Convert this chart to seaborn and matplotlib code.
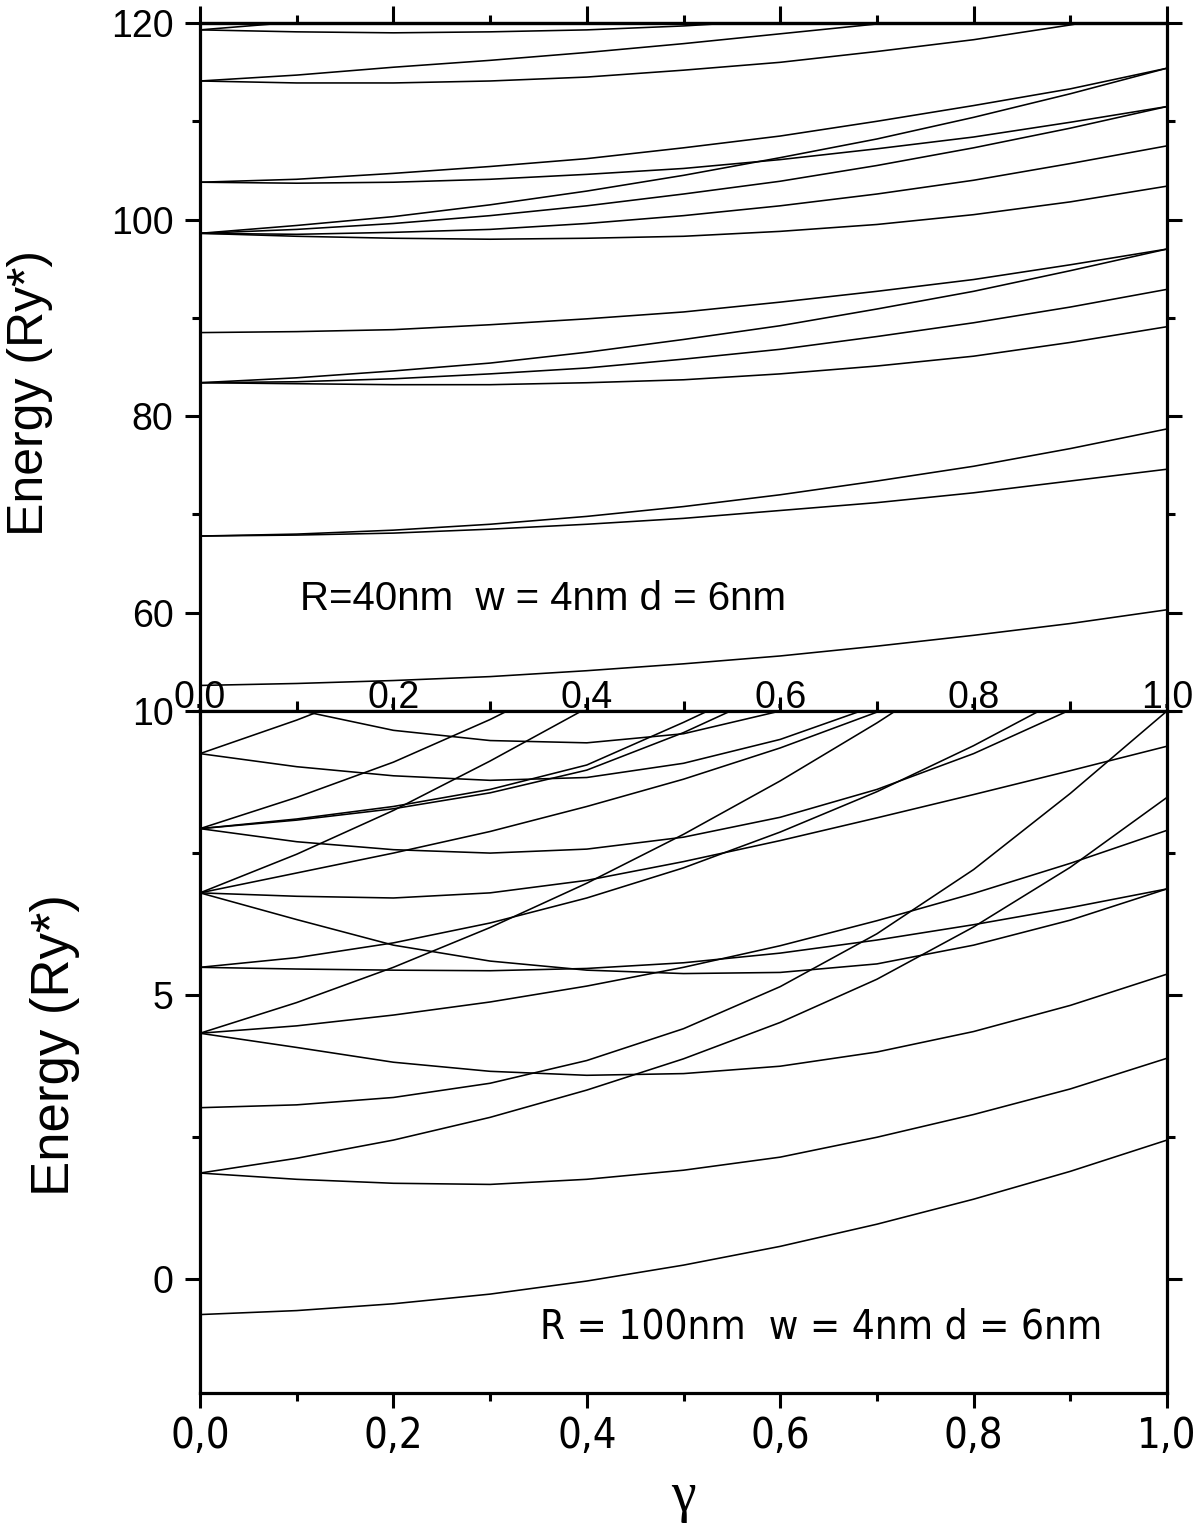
import numpy as np
import pandas as pd
import matplotlib
matplotlib.use("Agg")
import matplotlib.pyplot as plt
import matplotlib.transforms as mtrans
from matplotlib import font_manager as fm
from matplotlib.ticker import MultipleLocator
import seaborn as sns

# ---------------- data ----------------
gamma = [0.0, 0.1, 0.2, 0.3, 0.4, 0.5, 0.6, 0.7, 0.8, 0.9, 1.0]

# top panel (R = 40 nm) energy levels, Ry*
t1 = [52.6, 52.8, 53.1, 53.5, 54.1, 54.8, 55.6, 56.6, 57.7, 58.9, 60.3]
t2a = [67.8, 68.0, 68.4, 69.0, 69.8, 70.8, 72.0, 73.4, 74.9, 76.7, 78.7]
t2b = [67.8, 67.9, 68.1, 68.5, 69.0, 69.6, 70.4, 71.2, 72.2, 73.4, 74.6]
t3a = [83.4, 83.9, 84.6, 85.4, 86.5, 87.8, 89.2, 90.9, 92.7, 94.8, 97.0]
t3b = [83.4, 83.5, 83.8, 84.3, 84.9, 85.8, 86.8, 88.1, 89.5, 91.1, 92.9]
t3c = [83.4, 83.3, 83.2, 83.2, 83.4, 83.7, 84.3, 85.1, 86.1, 87.5, 89.1]
t4 = [88.5, 88.6, 88.8, 89.3, 89.9, 90.6, 91.6, 92.7, 93.9, 95.4, 97.0]
t5a = [98.6, 98.3, 98.1, 98.0, 98.1, 98.3, 98.8, 99.5, 100.5, 101.8, 103.4]
t5b = [98.6, 98.5, 98.7, 99.0, 99.6, 100.4, 101.4, 102.6, 104.0, 105.7, 107.5]
t5c = [98.6, 99.0, 99.6, 100.4, 101.4, 102.6, 103.9, 105.5, 107.3, 109.3, 111.5]
t5d = [98.6, 99.4, 100.3, 101.5, 102.9, 104.5, 106.3, 108.2, 110.4, 112.8, 115.4]
t6a = [103.8, 104.1, 104.7, 105.4, 106.2, 107.3, 108.5, 110.0, 111.6, 113.3, 115.4]
t6b = [103.8, 103.7, 103.8, 104.1, 104.6, 105.2, 106.1, 107.2, 108.4, 109.9, 111.5]
t7a = [114.1, 114.7, 115.5, 116.2, 117.0, 117.9, 118.9, 119.9, 121.0]
t7b = [114.1, 113.9, 113.9, 114.1, 114.5, 115.2, 116.0, 117.1, 118.3, 119.8, 121.5]
t8a = [119.3, 120.1, 121.0]
t8b = [119.3, 119.1, 119.0, 119.1, 119.3, 119.7, 120.3]

# bottom panel (R = 100 nm) energy levels, Ry*
b1 = [-0.62, -0.55, -0.43, -0.26, -0.03, 0.25, 0.58, 0.97, 1.41, 1.90, 2.45]
b2 = [1.87, 1.76, 1.69, 1.67, 1.76, 1.92, 2.15, 2.50, 2.90, 3.35, 3.89]
b3 = [1.87, 2.13, 2.45, 2.85, 3.33, 3.88, 4.52, 5.28, 6.20, 7.25, 8.48]
b4 = [3.02, 3.07, 3.20, 3.45, 3.85, 4.41, 5.15, 6.08, 7.21, 8.55, 10.0]
b5 = [4.33, 4.08, 3.82, 3.66, 3.59, 3.62, 3.75, 4.00, 4.36, 4.82, 5.37]
b6 = [4.33, 4.46, 4.65, 4.88, 5.16, 5.49, 5.87, 6.31, 6.79, 7.32, 7.90]
b7 = [4.33, 4.87, 5.49, 6.19, 6.97, 7.83, 8.77, 9.79, 10.89]
b8 = [5.49, 5.46, 5.44, 5.43, 5.47, 5.57, 5.74, 5.97, 6.24, 6.54, 6.87]
b9 = [5.49, 5.66, 5.92, 6.27, 6.71, 7.24, 7.87, 8.58, 9.39, 10.29]
b10 = [6.80, 7.48, 8.25, 9.12, 10.05, 11.0]
b11 = [6.80, 7.15, 7.50, 7.88, 8.32, 8.80, 9.35, 9.98, 10.65]
b12 = [6.80, 6.74, 6.71, 6.80, 7.02, 7.35, 7.72, 8.12, 8.53, 8.95, 9.38]
b13 = [6.80, 6.33, 5.88, 5.60, 5.44, 5.38, 5.40, 5.55, 5.88, 6.32, 6.87]
b14 = [7.93, 8.48, 9.10, 9.85, 10.7]
b15 = [7.93, 8.10, 8.32, 8.62, 9.05, 9.80, 10.6]
b16 = [7.93, 8.08, 8.28, 8.56, 8.96, 9.62, 10.4]
b17 = [7.93, 7.70, 7.56, 7.50, 7.57, 7.78, 8.13, 8.62, 9.25, 10.02, 10.9]
b18 = [9.25, 9.84, 10.5]
b19 = [9.25, 9.02, 8.86, 8.78, 8.83, 9.08, 9.50, 10.1]
b20 = [10.8, 10.02, 9.66, 9.48, 9.44, 9.60, 10.0, 10.6]

top_curves = [t1, t2a, t2b, t3a, t3b, t3c, t4, t5a, t5b, t5c, t5d,
              t6a, t6b, t7a, t7b, t8a, t8b]
bottom_curves = [b1, b2, b3, b4, b5, b6, b7, b8, b9, b10, b11, b12, b13,
                 b14, b15, b16, b17, b18, b19, b20]

x_tick_labels = ["0,0", "0,2", "0,4", "0,6", "0,8", "1,0"]
x_tick_values = [0.0, 0.2, 0.4, 0.6, 0.8, 1.0]
top_yticks = [60, 80, 100, 120]
bottom_yticks = [0, 5, 10]
top_note = "R=40nm  w = 4nm d = 6nm"
bottom_note = "R = 100nm  w = 4nm d = 6nm"


def to_long(curves):
    rows = []
    for k, vals in enumerate(curves):
        for g, e in zip(gamma, vals):
            rows.append({"gamma": g, "E": e, "curve": k})
    return pd.DataFrame(rows)


df_top = to_long(top_curves)
df_bot = to_long(bottom_curves)

# ---------------- style ----------------
sns.set_theme(style="ticks")
plt.rcParams["font.family"] = ["Liberation Sans", "DejaVu Sans"]
for key in ("text.color", "axes.labelcolor", "xtick.color", "ytick.color",
            "axes.edgecolor"):
    plt.rcParams[key] = "black"


def pick_narrow():
    for fam, stretch in (("Liberation Sans Narrow", "normal"),
                         ("Arial Narrow", "normal"),
                         ("DejaVu Sans", "condensed"),
                         ("Roboto Condensed", "normal")):
        try:
            p = fm.findfont(fm.FontProperties(family=fam, stretch=stretch),
                            fallback_to_default=False)
        except Exception:
            continue
        low = p.lower()
        if "narrow" in low or "condensed" in low:
            return {"family": [fam, "Liberation Sans", "DejaVu Sans"],
                    "stretch": stretch}
    return {"family": ["Liberation Sans", "DejaVu Sans"], "stretch": "normal"}


NARROW = pick_narrow()

fig = plt.figure(figsize=(12, 15.25), dpi=100)
ax1 = fig.add_axes([0.16667, 0.53377, 0.80583, 0.45115])
ax2 = fig.add_axes([0.16667, 0.08656, 0.80583, 0.44721])

LW = 1.15
sns.lineplot(data=df_top, x="gamma", y="E", units="curve", estimator=None,
             color="black", lw=LW, ax=ax1, legend=False, sort=False)
sns.lineplot(data=df_bot, x="gamma", y="E", units="curve", estimator=None,
             color="black", lw=LW, ax=ax2, legend=False, sort=False)

for ax in (ax1, ax2):
    ax.set_xlim(0, 1)
    for s in ax.spines.values():
        s.set_linewidth(2.3)
        s.set_color("black")
        s.set_visible(True)
    ax.set_xlabel("")
    ax.set_ylabel("")
    ax.xaxis.set_minor_locator(MultipleLocator(0.1))
    ax.set_xticks(x_tick_values)
    ax.tick_params(axis="y", which="both", direction="out", left=True,
                   right=True, labelright=False, width=2.2, colors="black")
    ax.tick_params(axis="y", which="major", length=11, labelsize=27, pad=8)
    ax.tick_params(axis="y", which="minor", length=5.5)

# top panel
ax1.set_ylim(50, 120)
ax1.set_yticks(top_yticks)
ax1.yaxis.set_minor_locator(MultipleLocator(10))
ax1.tick_params(axis="x", which="both", bottom=True, top=False,
                labelbottom=False, width=2.2)
ax1.tick_params(axis="x", which="major", direction="inout", length=20)
ax1.tick_params(axis="x", which="minor", direction="in", length=7)
sec = ax1.secondary_xaxis("top")
sec.set_xticks(x_tick_values)
sec.xaxis.set_minor_locator(MultipleLocator(0.1))
sec.tick_params(axis="x", which="both", direction="out", width=2.2,
                labeltop=False)
sec.tick_params(axis="x", which="major", length=12)
sec.tick_params(axis="x", which="minor", length=6)
sec.spines["top"].set_linewidth(2.3)

trans = mtrans.offset_copy(
    mtrans.blended_transform_factory(ax1.transData, ax1.transAxes),
    fig=fig, x=0, y=3, units="dots")
for v, lab in zip(x_tick_values, x_tick_labels):
    ax1.text(v, 0, lab, transform=trans, ha="center", va="baseline",
             fontsize=27, zorder=5)

ax1.text(0.103, 60.3, top_note, fontsize=29, ha="left", va="baseline")
ax1.set_ylabel("Energy (Ry*)", fontsize=36, va="center")
ax1.yaxis.set_label_coords(-0.176, 0.462)

# bottom panel
ax2.set_ylim(-2, 10)
ax2.set_yticks(bottom_yticks)
ax2.yaxis.set_minor_locator(MultipleLocator(2.5))
ax2.set_xticklabels(x_tick_labels, family=NARROW["family"],
                    stretch=NARROW["stretch"])
ax2.tick_params(axis="x", which="both", direction="out", bottom=True,
                top=False, width=2.2)
ax2.tick_params(axis="x", which="major", length=11, labelsize=30, pad=5)
ax2.tick_params(axis="x", which="minor", length=6)
ax2.text(0.352, -1.04, bottom_note, fontsize=29, family=NARROW["family"],
         stretch=NARROW["stretch"], ha="left", va="baseline")
ax2.set_ylabel("Energy (Ry*)", fontsize=38, va="center")
ax2.yaxis.set_label_coords(-0.15, 0.51)
ax2.set_xlabel("γ", fontsize=40, family=["Liberation Serif", "DejaVu Serif"],
               va="center")
ax2.xaxis.set_label_coords(0.5, -0.152)

fig.savefig("out.png", dpi=100)
